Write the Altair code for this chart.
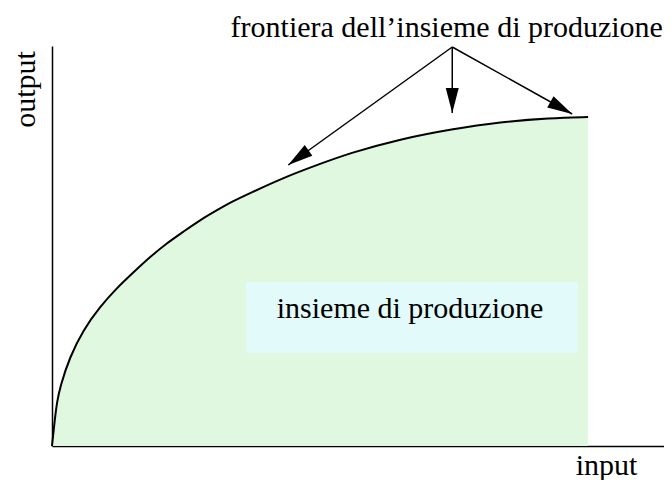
import math
import altair as alt
import pandas as pd

# ---- data ----
input_vals = [0, 0.05, 0.08, 0.13, 0.29, 0.51, 0.78, 1.06, 1.32, 1.60, 1.88, 2.14,
              2.42, 2.70, 2.96, 3.24, 3.77, 4.33, 4.87, 5.69, 6.54, 7.32, 8.14, 8.76]
output_vals = [0, 0.29, 0.43, 0.59, 0.89, 1.16, 1.39, 1.58, 1.73, 1.89, 2.03, 2.14,
               2.26, 2.36, 2.45, 2.53, 2.68, 2.81, 2.93, 3.07, 3.17, 3.24, 3.28, 3.29]

arrow_origin = (6.54, 3.99)
arrow_tips_x = [3.86, 6.54, 8.50]
arrow_tips_y = [2.81, 3.33, 3.32]

box_x = [3.17, 8.59]
box_y = [0.93, 1.64]

labels = ["frontiera dell\u2019insieme di produzione", "insieme di produzione"]
labels_x = [6.45, 5.85]
labels_y = [4.09, 1.28]

# ---- layout ----
W, H = 612, 400
XMAX, YMAX = 10, 4
PXX, PXY = W / XMAX, H / YMAX
FONT = "Liberation Serif"

xscale = alt.Scale(domain=[0, XMAX], nice=False, zero=False)
yscale = alt.Scale(domain=[0, YMAX], nice=False, zero=False)
xaxis = alt.Axis(title="input", ticks=False, labels=False, grid=False,
                 domainColor="black", domainWidth=1.5,
                 titleFont=FONT, titleFontSize=30, titleFontWeight="normal",
                 titleColor="black", titleX=554, titleY=28,
                 titleBaseline="alphabetic", titleAlign="center")
yaxis = alt.Axis(title="output", ticks=False, labels=False, grid=False,
                 domainColor="black", domainWidth=1.5,
                 titleFont=FONT, titleFontSize=30, titleFontWeight="normal",
                 titleColor="black", titleX=-18, titleY=43, titleAngle=270,
                 titleBaseline="alphabetic", titleAlign="center")

curve = pd.DataFrame({"input": input_vals, "output": output_vals})

X = alt.X("input:Q", scale=xscale, axis=xaxis)
Y = alt.Y("output:Q", scale=yscale, axis=yaxis)

area = alt.Chart(curve).mark_area(color="#e0f8e0", interpolate="basis").encode(x=X, y=Y)
line = alt.Chart(curve).mark_line(color="black", strokeWidth=2, interpolate="basis").encode(x=X, y=Y)

box = pd.DataFrame({"input": [box_x[0]], "input2": [box_x[1]],
                    "output": [box_y[0]], "output2": [box_y[1]]})
rect = alt.Chart(box).mark_rect(color="#e2fafa").encode(
    x=X, x2="input2:Q", y=Y, y2="output2:Q")

txt = pd.DataFrame({"input": labels_x, "output": labels_y, "label": labels})
text = alt.Chart(txt).mark_text(font=FONT, fontSize=30, baseline="alphabetic",
                                align="center", color="black").encode(
    x=X, y=Y, text="label:N")

angles = []
for tx, ty in zip(arrow_tips_x, arrow_tips_y):
    dx = (tx - arrow_origin[0]) * PXX
    dy = -(ty - arrow_origin[1]) * PXY
    angles.append(math.degrees(math.atan2(dx, -dy)) % 360)

arrows = pd.DataFrame({
    "input": [arrow_origin[0]] * 3, "output": [arrow_origin[1]] * 3,
    "tip_x": arrow_tips_x, "tip_y": arrow_tips_y, "angle": angles})

shafts = alt.Chart(arrows).mark_rule(color="black", strokeWidth=1.5).encode(
    x=X, y=Y, x2="tip_x:Q", y2="tip_y:Q")
heads = alt.Chart(arrows).mark_point(
    shape="M0,0L-0.52,2L0.52,2Z", filled=True, size=625, color="black",
    opacity=1, strokeWidth=0).encode(
    x=alt.X("tip_x:Q", scale=xscale, axis=xaxis),
    y=alt.Y("tip_y:Q", scale=yscale, axis=yaxis),
    angle=alt.Angle("angle:Q", scale=None))

chart = alt.layer(area, rect, line, text, shafts, heads).properties(
    width=W, height=H,
    padding={"left": 44, "top": 38, "right": 0, "bottom": 34},
    autosize=alt.AutoSizeParams(type="none"),
).configure_view(strokeWidth=0)

chart.save("out.html", embed_options={"renderer": "svg", "actions": False})
